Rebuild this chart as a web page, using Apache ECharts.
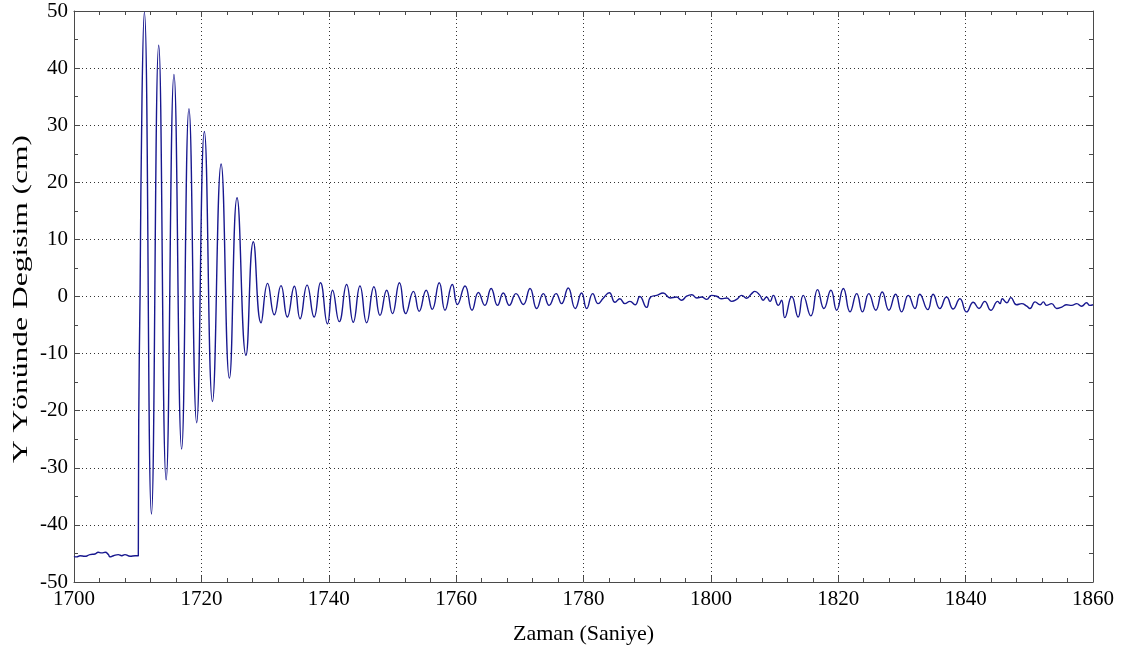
<!DOCTYPE html>
<html>
<head>
<meta charset="utf-8">
<script src="https://cdn.jsdelivr.net/npm/echarts@6/dist/echarts.min.js"></script>
<style>
  html, body { margin: 0; padding: 0; background: #fff; }
  #chart { width: 1141px; height: 650px; }
</style>
</head>
<body>
<div id="chart"></div>
<script>
// Y displacement record (cm) against time (s)
// Resting level before the release
const restTime  = [1700.0, 1700.4, 1700.95, 1701.7, 1702.5, 1703.3, 1703.8, 1704.35, 1704.9, 1705.4, 1705.65, 1706.2, 1706.95, 1707.5, 1708.0, 1708.8, 1709.6, 1710.1];
const restValue = [-45.5, -45.6, -45.4, -45.5, -45.2, -45.1, -44.8, -44.9, -44.8, -45.2, -45.6, -45.4, -45.2, -45.4, -45.2, -45.5, -45.4, -45.4];

// Release and the large decaying swings
const swingTime  = [1710.16, 1710.37, 1710.68, 1711.05, 1712.16, 1713.3, 1714.47, 1715.7, 1716.9, 1718.05, 1719.26, 1720.47, 1721.74, 1723.1, 1724.4, 1725.6, 1727.0, 1728.16, 1729.37];
const swingValue = [-22, 0, 35, 49.8, -38.1, 44.0, -32.1, 38.9, -26.7, 32.9, -22.1, 28.9, -18.4, 23.2, -14.3, 17.3, -10.3, 9.6, -4.6];

// Small oscillation that follows
const ringTime  = [1730.4, 1731.45, 1732.5, 1733.5, 1734.6, 1735.5, 1736.6, 1737.7, 1738.7, 1739.8, 1740.6, 1741.65, 1742.8, 1743.85, 1744.9, 1745.95, 1747.1, 1748.05, 1749.1, 1750.0, 1751.1, 1752.1, 1753.3, 1754.2, 1755.3, 1756.25, 1757.35, 1758.25, 1759.4, 1760.2, 1761.4, 1762.5, 1763.5, 1764.5, 1765.5, 1766.5, 1767.4, 1768.35, 1769.4, 1770.55, 1771.6, 1772.65, 1773.7, 1774.6, 1775.7, 1776.55, 1777.6, 1778.7, 1779.7];
const ringValue = [2.3, -3.2, 1.9, -3.6, 1.8, -3.9, 2.0, -3.6, 2.4, -4.8, 1.1, -4.4, 2.1, -4.5, 1.85, -4.6, 1.7, -3.3, 1.1, -3.0, 2.4, -3.0, 0.9, -2.6, 1.1, -2.25, 2.4, -2.4, 2.1, -1.4, 1.85, -2.4, 0.7, -1.55, 1.4, -1.55, 0.6, -1.55, 0.5, -1.4, 1.4, -2.1, 0.5, -1.55, 0.5, -1.25, 1.5, -2.1, 0.6];

// Quiet stretch around 1800 s
const quietTime  = [1780.5, 1781.45, 1782.3, 1783.1, 1784.05, 1784.95, 1785.7, 1786.5, 1787.3, 1788.1, 1788.85, 1789.9, 1790.55, 1791.5, 1792.5, 1793.6, 1794.6, 1795.4, 1796.2, 1797.0, 1797.8, 1798.55, 1799.35, 1800.1, 1800.9, 1801.7, 1802.5, 1803.25, 1804.05, 1804.85, 1805.6, 1806.4, 1806.9, 1807.7, 1808.2, 1808.75, 1809.3, 1809.8, 1810.6, 1811.1];
const quietValue = [-2.1, 0.5, -1.25, -0.3, 0.65, -1.0, -0.4, -1.25, -0.85, -1.45, 0.0, -1.9, -0.1, 0.2, 0.6, -0.25, -0.1, -0.65, 0.05, 0.3, -0.25, -0.1, -0.5, 0.2, 0.05, -0.4, -0.25, -0.85, -0.5, 0.2, -0.3, 0.5, 0.9, 0.2, -0.65, -0.1, -0.85, 0.2, -1.55, -0.65];

// Second burst and the tail
const tailTime  = [1811.6, 1812.7, 1813.7, 1814.5, 1815.7, 1816.75, 1817.75, 1818.85, 1819.75, 1820.8, 1821.85, 1822.9, 1823.8, 1824.8, 1825.9, 1826.9, 1827.95, 1829.0, 1829.95, 1831.0, 1832.05, 1832.8, 1834.05, 1834.9, 1835.95, 1837.0, 1838.05, 1839.1, 1840.15, 1841.2, 1842.1, 1843.0, 1843.95, 1845.05, 1845.4, 1845.75, 1846.45, 1847.1, 1848.0, 1848.8, 1849.6, 1850.1, 1850.9, 1851.7, 1852.2, 1852.7, 1853.5, 1854.3, 1855.1, 1855.85, 1856.65, 1857.45, 1858.2, 1859.0, 1859.5, 1860.0];
const tailValue = [-3.7, 0.0, -3.6, 0.2, -3.4, 1.2, -2.1, 1.1, -2.4, 1.4, -2.7, 0.5, -2.7, 0.5, -2.4, 0.8, -2.4, 0.4, -2.7, 0.2, -2.1, 0.4, -2.3, 0.4, -2.1, -0.1, -2.2, -0.4, -2.7, -1.0, -2.1, -0.85, -2.4, -0.85, -1.25, -0.4, -1.1, -0.2, -1.45, -1.25, -1.7, -2.1, -0.95, -1.45, -0.95, -1.55, -1.25, -2.1, -1.85, -1.45, -1.55, -1.25, -1.7, -1.1, -1.55, -1.45];

// Axis ranges and tick labels
const xTicks = [1700, 1720, 1740, 1760, 1780, 1800, 1820, 1840, 1860];
const yTicks = [-50, -40, -30, -20, -10, 0, 10, 20, 30, 40, 50];
const xTitle = 'Zaman (Saniye)';
const yTitle = 'Y Yönünde Degisim (cm)';

const allTime = [].concat(restTime, swingTime, ringTime, quietTime, tailTime);
const allValue = [].concat(restValue, swingValue, ringValue, quietValue, tailValue);
const seriesData = allTime.map((t, i) => [t, allValue[i]]);

const FONT = 'Liberation Serif';
const AXIS_COLOR = '#4a4a4a';
const plain = v => String(v);

function baseAxis(extra) {
  return Object.assign({
    type: 'value',
    axisLine: { show: true, onZero: false, lineStyle: { color: AXIS_COLOR, width: 1 } },
    axisTick: { show: true, inside: true, length: 6, lineStyle: { color: AXIS_COLOR } },
    splitLine: { show: false },
    axisLabel: { show: false }
  }, extra);
}

const chart = echarts.init(document.getElementById('chart'), null, { renderer: 'canvas' });
chart.setOption({
  animation: false,
  backgroundColor: '#ffffff',
  grid: { left: 74, right: 48, top: 11, bottom: 68, containLabel: false },
  // vertical axis title, drawn as a stretched text block beside the value axis
  graphic: [{
    type: 'text',
    x: 21,
    y: 299,
    rotation: Math.PI / 2,
    scaleX: 1.5,
    silent: true,
    style: {
      text: yTitle,
      fill: '#000',
      font: '21px "Liberation Serif"',
      align: 'center',
      verticalAlign: 'middle'
    }
  }],
  xAxis: [
    baseAxis({
      position: 'bottom',
      min: xTicks[0], max: xTicks[xTicks.length - 1], interval: 20,
      minorTick: { show: true, splitNumber: 5, length: 4, lineStyle: { color: AXIS_COLOR } },
      splitLine: { show: true, lineStyle: { color: '#333', type: [1, 3], width: 1 } },
      axisLabel: { show: true, color: '#000', fontFamily: FONT, fontSize: 21, margin: 7, formatter: plain },
      name: xTitle, nameLocation: 'middle', nameGap: 41,
      nameTextStyle: { color: '#000', fontFamily: FONT, fontSize: 22 }
    }),
    baseAxis({
      position: 'top',
      min: xTicks[0], max: xTicks[xTicks.length - 1], interval: 20,
      minorTick: { show: true, splitNumber: 5, length: 4, lineStyle: { color: AXIS_COLOR } }
    })
  ],
  yAxis: [
    baseAxis({
      position: 'left',
      min: yTicks[0], max: yTicks[yTicks.length - 1], interval: 10,
      minorTick: { show: true, splitNumber: 2, length: 4, lineStyle: { color: AXIS_COLOR } },
      splitLine: { show: true, lineStyle: { color: '#333', type: [1, 3], width: 1 } },
      axisLabel: { show: true, color: '#000', fontFamily: FONT, fontSize: 21, margin: 6, formatter: plain }
    }),
    baseAxis({
      position: 'right',
      min: yTicks[0], max: yTicks[yTicks.length - 1], interval: 10,
      minorTick: { show: true, splitNumber: 2, length: 4, lineStyle: { color: AXIS_COLOR } }
    })
  ],
  series: [{
    type: 'line',
    xAxisIndex: 0,
    yAxisIndex: 0,
    data: seriesData,
    showSymbol: false,
    smooth: 0.5,
    lineStyle: { color: '#18188f', width: 1.4 },
    silent: true
  }]
});
</script>
</body>
</html>
